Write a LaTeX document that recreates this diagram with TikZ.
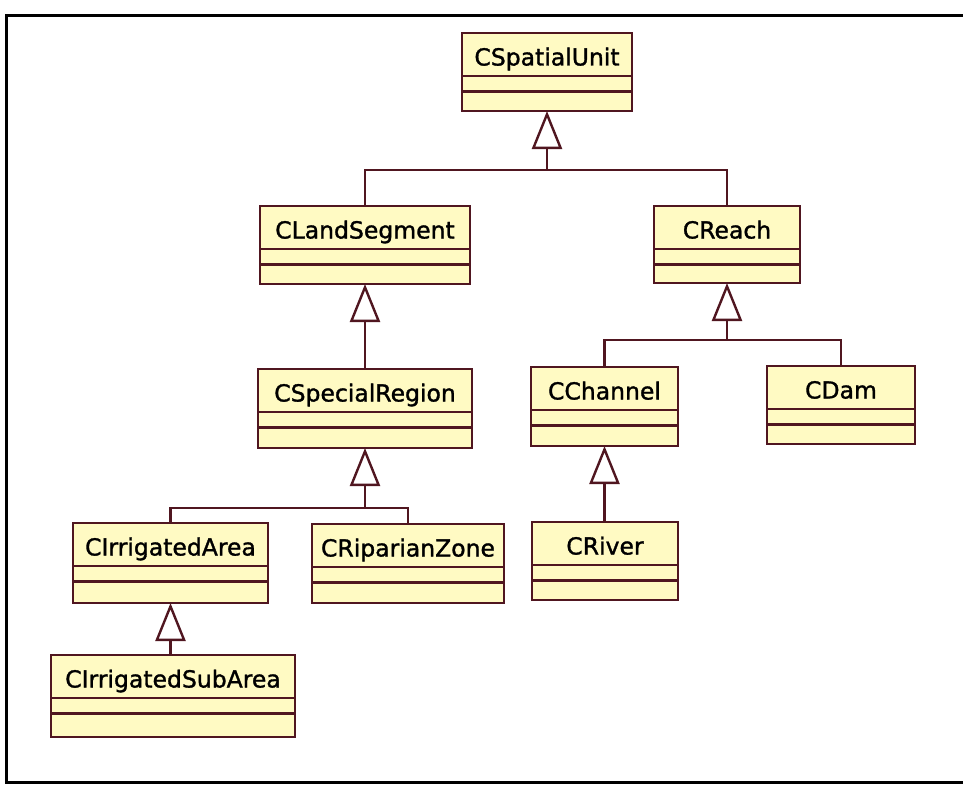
\documentclass[tikz,border=0pt]{standalone}
\usepackage{fontspec}
\setmainfont[FakeBold=1.3]{DejaVu Sans}
\usetikzlibrary{arrows.meta,fit,calc}
\definecolor{classfill}{RGB}{255,250,195}
\definecolor{classline}{RGB}{80,22,32}
\tikzset{
  classbox/.style={draw=classline, fill=classfill, line width=2.4pt, inner sep=0pt, outer sep=0pt},
  classname/.style={anchor=base, inner sep=0pt, font=\fontsize{23.5}{28}\selectfont},
  divider/.style={draw=classline, line width=2.4pt},
  conn/.style={draw=classline, line width=2.4pt},
  gen/.style={-{Triangle[length=38pt, width=30pt, fill=white]}},
  frameline/.style={draw=black, line width=3pt}
}
% UML class with name, attribute and operation compartments
% #1 node name, #2 left, #3 top, #4 right, #5 bottom, #6 class name
\newcommand\umlclass[6]{%
  \node[classbox, fit={(#2,#3) (#4,#5)}] (#1) {};
  \draw[divider] ($(#1.north west)+(0,43)$) -- ($(#1.north east)+(0,43)$);
  \draw[divider] ($(#1.north west)+(0,58.5)$) -- ($(#1.north east)+(0,58.5)$);
  \node[classname] (#1-name) at ($(#1.north)+(0,32.5)$) {#6};
}
\begin{document}
\begin{tikzpicture}[x=1pt, y=-1pt]
  \useasboundingbox (0,0) rectangle (963,784);
  % page frame
  \draw[frameline] (963,15.5) -- (6,15.5) -- (6,782.5) -- (963,782.5);

  % classes
  \umlclass{CSpatialUnit}{462}{33}{632}{111}{CSpatialUnit}
  \umlclass{CLandSegment}{260}{206}{470}{284}{CLandSegment}
  \umlclass{CReach}{654}{206}{800}{283}{CReach}
  \umlclass{CSpecialRegion}{258}{369}{472}{448}{CSpecialRegion}
  \umlclass{CChannel}{531}{367}{678}{446}{CChannel}
  \umlclass{CDam}{767}{366}{915}{444}{CDam}
  \umlclass{CIrrigatedArea}{73}{523}{268}{603}{CIrrigatedArea}
  \umlclass{CRiparianZone}{312}{524}{504}{603}{CRiparianZone}
  \umlclass{CRiver}{532}{522}{678}{600}{CRiver}
  \umlclass{CIrrigatedSubArea}{51}{655}{295}{737}{CIrrigatedSubArea}

  % generalisations
  \coordinate (barSU) at ($(CSpatialUnit.south)+(0,59)$);
  \draw[conn] (CLandSegment.north) |- (barSU) -| (CReach.north);
  \draw[conn, gen] (barSU) -- (CSpatialUnit.south);

  \draw[conn, gen] (CLandSegment.south |- CSpecialRegion.north) -- (CLandSegment.south);

  \coordinate (barR) at ($(CReach.south)+(0,57)$);
  \draw[conn] (CChannel.north) |- (barR) -| (CDam.north);
  \draw[conn, gen] (barR) -- (CReach.south);

  \coordinate (barSR) at ($(CSpecialRegion.south)+(0,60)$);
  \draw[conn] (CIrrigatedArea.north) |- (barSR) -| (CRiparianZone.north);
  \draw[conn, gen] (barSR) -- (CSpecialRegion.south);

  \draw[conn, gen] (CChannel.south |- CRiver.north) -- (CChannel.south);
  \draw[conn, gen] (CIrrigatedArea.south |- CIrrigatedSubArea.north) -- (CIrrigatedArea.south);
\end{tikzpicture}
\end{document}
